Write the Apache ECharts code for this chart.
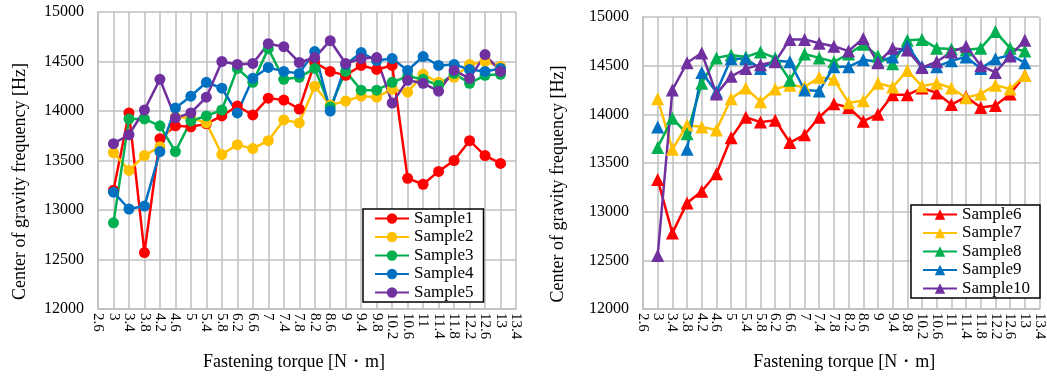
<!DOCTYPE html>
<html>
<head>
<meta charset="utf-8">
<script src="https://cdn.jsdelivr.net/npm/echarts@6/dist/echarts.min.js"></script>
<style>
html,body{margin:0;padding:0;background:#fff;}
#c{width:1047px;height:376px;}
</style>
</head>
<body>
<div id="c"></div>
<script>
// Tick labels of the torque axis (category axis, every gridline)
const tickLabels = ['2.6','3','3.4','3.8','4.2','4.6','5','5.4','5.8','6.2','6.6','7','7.4','7.8','8.2','8.6','9','9.4','9.8','10.2','10.6','11','11.4','11.8','12.2','12.6','13','13.4'];
// Measured torques (N·m)
const torques = ['3','3.4','3.8','4.2','4.6','5','5.4','5.8','6.2','6.6','7','7.4','7.8','8.2','8.6','9','9.4','9.8','10.2','10.6','11','11.4','11.8','12.2','12.6','13'];

// Left chart
const sample1 = [13200,13980,12570,13720,13850,13840,13870,13950,14050,13960,14130,14110,14020,14490,14400,14360,14460,14420,14460,13320,13260,13390,13500,13700,13550,13470];
const sample2 = [13580,13400,13550,13640,13940,13930,13880,13560,13660,13620,13700,13910,13880,14250,14060,14100,14150,14140,14220,14190,14370,14290,14340,14470,14500,14450];
const sample3 = [12870,13920,13920,13850,13590,13900,13950,14010,14430,14290,14630,14320,14340,14430,14040,14400,14210,14210,14290,14350,14320,14260,14380,14280,14360,14370];
const sample4 = [13180,13010,13040,13590,14030,14150,14290,14230,13980,14330,14440,14400,14380,14600,14000,14470,14590,14510,14530,14410,14550,14460,14470,14420,14400,14430];
const sample5 = [13670,13760,14010,14320,13930,13980,14140,14500,14470,14480,14680,14650,14490,14540,14710,14480,14530,14540,14080,14310,14280,14200,14410,14330,14570,14400];

// Right chart
const sample6 = [13330,12780,13090,13210,13390,13760,13970,13920,13940,13710,13790,13970,14110,14070,13930,14000,14200,14200,14270,14220,14100,14180,14070,14090,14210,14400];
const sample7 = [14160,13640,13890,13870,13840,14160,14270,14130,14260,14300,14280,14380,14360,14120,14140,14320,14280,14450,14290,14320,14270,14170,14210,14300,14260,14400];
const sample8 = [13660,13960,13800,14320,14580,14610,14590,14640,14580,14350,14620,14580,14540,14620,14720,14600,14520,14760,14770,14680,14670,14660,14680,14850,14680,14650];
const sample9 = [13870,null,13640,14430,14230,14570,14570,14470,14550,14540,14250,14240,14490,14490,14560,14540,14590,14710,14490,14490,14550,14590,14470,14570,14610,14530];
const sample10 = [12550,14250,14530,14630,14210,14390,14470,14510,14540,14770,14770,14730,14700,14650,14780,14530,14680,14660,14480,14540,14640,14700,14500,14430,14600,14760];

const yTicks = {min:12000, max:15000, interval:500};
const colors = ['#FF0000','#FFC000','#00B050','#0070C0','#7030A0'];
const FONT = '"Liberation Serif","Times New Roman",serif';

function pairs(vals){ return torques.map((t,i)=>[t, vals[i]==null ? '-' : vals[i]]); }

function mkX(gi, namePad){
  return {
    type:'category', gridIndex:gi, data:tickLabels, boundaryGap:false,
    axisLine:{show:true, lineStyle:{color:'#BFBFBF', width:1.5}},
    axisTick:{show:false},
    axisLabel:{interval:0, rotate:-90, margin:4, color:'#000', fontFamily:FONT, fontSize:15},
    splitLine:{show:true, interval:0, lineStyle:{color:'#BFBFBF', width:1.5}},
    name:'Fastening torque [N・m]', nameLocation:'middle', nameGap:44,
    nameTextStyle:{color:'#000', fontFamily:FONT, fontSize:18, padding:namePad}
  };
}
function mkY(gi, gap){
  return {
    type:'value', gridIndex:gi, min:yTicks.min, max:yTicks.max, interval:yTicks.interval,
    axisLine:{show:true, lineStyle:{color:'#BFBFBF', width:1.5}},
    axisTick:{show:false},
    axisLabel:{margin:14, color:'#000', fontFamily:FONT, fontSize:16, formatter:function(v){return String(v);}},
    splitLine:{show:true, lineStyle:{color:'#BFBFBF', width:1.5}},
    name:'Center of gravity frequency [Hz]', nameLocation:'middle', nameGap:gap,
    nameTextStyle:{color:'#000', fontFamily:FONT, fontSize:18, padding:[0,42,0,0]}
  };
}
function mkS(name, vals, gi, sym, size, color){
  return {
    name:name, type:'line', xAxisIndex:gi, yAxisIndex:gi, data:pairs(vals),
    symbol:sym, symbolSize:size, showAllSymbol:true,
    itemStyle:{color:color}, lineStyle:{color:color, width:2.5},
    emphasis:{disabled:true}, animation:false
  };
}
const leftSets = [['Sample1',sample1],['Sample2',sample2],['Sample3',sample3],['Sample4',sample4],['Sample5',sample5]];
const rightSets = [['Sample6',sample6],['Sample7',sample7],['Sample8',sample8],['Sample9',sample9],['Sample10',sample10]];

const series = [];
leftSets.forEach((s,i)=>series.push(mkS(s[0], s[1], 0, 'circle', 11, colors[i])));
rightSets.forEach((s,i)=>series.push(mkS(s[0], s[1], 1, 'triangle', 13, colors[i])));

function mkLegend(names, left, top){
  return {
    data:names, orient:'vertical', left:left, top:top,
    itemWidth:34, itemHeight:13, itemGap:1.5,
    padding:[1,10,1,11],
    backgroundColor:'#fff', borderColor:'#000', borderWidth:1.5,
    textStyle:{color:'#000', fontFamily:FONT, fontSize:17, lineHeight:17},
    selectedMode:false
  };
}

const chart = echarts.init(document.getElementById('c'), null, {renderer:'canvas'});
chart.setOption({
  animation:false,
  backgroundColor:'#fff',
  grid:[
    {left:98, top:12, width:418, height:298},
    {left:643, top:17, width:398, height:292}
  ],
  xAxis:[mkX(0, [0,26,0,0]), mkX(1, [0,0,0,6])],
  yAxis:[mkY(0, 69), mkY(1, 76)],
  legend:[
    mkLegend(leftSets.map(s=>s[0]), 363, 209),
    mkLegend(rightSets.map(s=>s[0]), 911, 205)
  ],
  series:series
});
</script>
</body>
</html>
